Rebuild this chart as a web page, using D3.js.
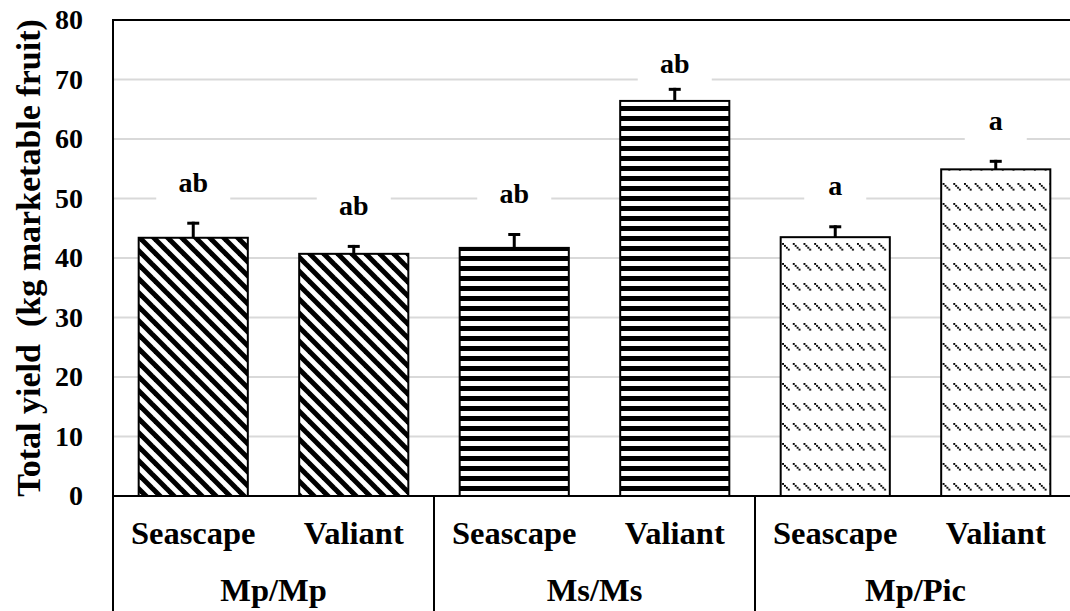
<!DOCTYPE html>
<html>
<head>
<meta charset="utf-8">
<script src="https://cdn.jsdelivr.net/npm/d3@7"></script>
<style>
  html, body { margin: 0; padding: 0; background: #fff; }
  svg text { font-family: "Liberation Serif", "Times New Roman", serif; font-weight: bold; fill: #000; }
</style>
</head>
<body>
<svg id="chart" width="1070" height="611"></svg>
<script>
// Rootstock/scion combinations and cultivars
const groups = ["Mp/Mp", "Ms/Ms", "Mp/Pic"];
const cultivars = ["Seascape", "Valiant"];
// Total yield (kg marketable fruit), in group order, cultivar within group
const yieldMeans = [43.4, 40.7, 41.7, 66.4, 43.5, 54.9];
const yieldErrors = [2.7, 1.5, 2.5, 2.2, 2.0, 1.6];
const letters = ["ab", "ab", "ab", "ab", "a", "a"];
const yTicks = [0, 10, 20, 30, 40, 50, 60, 70, 80];

const svg = d3.select("#chart");
const W = 1070, H = 611;
const m = { left: 113, top: 20, right: 1076, bottom: 496 };

const rows = [];
groups.forEach((g, gi) => cultivars.forEach((c, ci) => {
  const i = gi * cultivars.length + ci;
  rows.push({ key: g + "|" + c, group: g, cultivar: c, value: yieldMeans[i], err: yieldErrors[i], letter: letters[i], gi });
}));

const x = d3.scaleBand()
  .domain(rows.map(d => d.key))
  .range([m.left, m.right])
  .paddingInner(0.32)
  .paddingOuter(0.16);

const y = d3.scaleLinear().domain([0, 80]).range([m.bottom, m.top]);

// Fill patterns
const defs = svg.append("defs");
// wide downward diagonal
const pDiag = defs.append("pattern").attr("id", "pDiag")
  .attr("patternUnits", "userSpaceOnUse").attr("width", 14).attr("height", 14);
pDiag.append("rect").attr("width", 14).attr("height", 14).attr("fill", "#fff");
[-14, 0, 14].forEach(dx => {
  pDiag.append("line").attr("x1", dx - 2).attr("y1", -2).attr("x2", dx + 16).attr("y2", 16)
    .attr("stroke", "#000").attr("stroke-width", 5);
});
// wide horizontal
const pHor = defs.append("pattern").attr("id", "pHor")
  .attr("patternUnits", "userSpaceOnUse").attr("width", 10).attr("height", 10)
  .attr("y", m.bottom);
pHor.append("rect").attr("width", 10).attr("height", 10).attr("fill", "#fff");
pHor.append("rect").attr("y", 0).attr("width", 10).attr("height", 5).attr("fill", "#000");
// dashed downward diagonal
const pDash = defs.append("pattern").attr("id", "pDash")
  .attr("patternUnits", "userSpaceOnUse").attr("width", 10.7).attr("height", 20);
pDash.append("rect").attr("width", 10.7).attr("height", 20).attr("fill", "#fff");
[0, 1, 2, 3].forEach(k => {
  pDash.append("rect").attr("x", 1 + k * 1.9).attr("y", 3 + k * 1.9)
    .attr("width", 1.9).attr("height", 1.9).attr("fill", "#000");
});
const fills = ["url(#pDiag)", "url(#pHor)", "url(#pDash)"];

// Gridlines
svg.append("g").selectAll("line")
  .data(yTicks.filter(t => t > 0 && t < 80))
  .join("line")
  .attr("x1", m.left).attr("x2", W)
  .attr("y1", d => y(d)).attr("y2", d => y(d))
  .attr("stroke", "#d9d9d9").attr("stroke-width", 2);

// Bars
svg.append("g").selectAll("rect")
  .data(rows)
  .join("rect")
  .attr("x", d => x(d.key))
  .attr("y", d => y(d.value))
  .attr("width", x.bandwidth())
  .attr("height", d => y(0) - y(d.value))
  .attr("fill", d => fills[d.gi])
  .attr("stroke", "#000").attr("stroke-width", 2);

// Error bars (upper only)
const eb = svg.append("g").selectAll("g").data(rows).join("g");
eb.append("line")
  .attr("x1", d => x(d.key) + x.bandwidth() / 2).attr("x2", d => x(d.key) + x.bandwidth() / 2)
  .attr("y1", d => y(d.value)).attr("y2", d => y(d.value + d.err))
  .attr("stroke", "#000").attr("stroke-width", 3);
eb.append("line")
  .attr("x1", d => x(d.key) + x.bandwidth() / 2 - 6).attr("x2", d => x(d.key) + x.bandwidth() / 2 + 6)
  .attr("y1", d => y(d.value + d.err) + 1.5).attr("y2", d => y(d.value + d.err) + 1.5)
  .attr("stroke", "#000").attr("stroke-width", 3);

// Significance letters with white boxes
const lab = svg.append("g").selectAll("g").data(rows).join("g")
  .attr("transform", d => {
    const cy = Math.max(m.top + 43, y(d.value + d.err) - 40);
    return `translate(${x(d.key) + x.bandwidth() / 2},${cy})`;
  });
lab.append("rect")
  .attr("x", d => -(d.letter.length * 6 + 25))
  .attr("width", d => 2 * (d.letter.length * 6 + 25))
  .attr("y", -20).attr("height", 44)
  .attr("fill", "#fff");
lab.append("text")
  .attr("text-anchor", "middle").attr("dy", "0.35em")
  .style("font-size", "28px")
  .text(d => d.letter);

// Frame: top border, left axis, bottom axis
svg.append("line").attr("x1", m.left).attr("x2", W).attr("y1", m.top).attr("y2", m.top)
  .attr("stroke", "#000").attr("stroke-width", 2);
svg.append("line").attr("x1", m.left).attr("x2", m.left).attr("y1", m.top - 1).attr("y2", H)
  .attr("stroke", "#000").attr("stroke-width", 2);
svg.append("line").attr("x1", m.left).attr("x2", W).attr("y1", m.bottom).attr("y2", m.bottom)
  .attr("stroke", "#000").attr("stroke-width", 2);

// Y axis tick labels
const yAxis = d3.axisLeft(y).tickValues(yTicks).tickSize(0).tickPadding(30);
const ya = svg.append("g").attr("transform", `translate(${m.left},0)`).call(yAxis);
ya.select(".domain").remove();
ya.selectAll("text").style("font-size", "28px")
  .style("font-family", "'Liberation Serif', serif").style("font-weight", "bold");

// Y axis title
svg.append("text")
  .attr("transform", `translate(40,${(m.top + m.bottom) / 2}) rotate(-90)`)
  .attr("text-anchor", "middle")
  .style("font-size", "34px")
  .style("white-space", "pre")
  .text("Total yield  (kg marketable fruit)");

// Cultivar labels
svg.append("g").selectAll("text").data(rows).join("text")
  .attr("x", d => x(d.key) + x.bandwidth() / 2)
  .attr("y", 544)
  .attr("text-anchor", "middle")
  .style("font-size", "32.5px")
  .text(d => d.cultivar);

// Group labels and separators
const step = x.step();
const groupStart = gi => m.left + gi * cultivars.length * step;
svg.append("g").selectAll("text").data(groups).join("text")
  .attr("x", (d, i) => groupStart(i) + cultivars.length * step / 2)
  .attr("y", 601)
  .attr("text-anchor", "middle")
  .style("font-size", "32.5px")
  .text(d => d);
svg.append("g").selectAll("line").data(d3.range(1, groups.length + 1)).join("line")
  .attr("x1", i => groupStart(i)).attr("x2", i => groupStart(i))
  .attr("y1", m.bottom).attr("y2", H)
  .attr("stroke", "#000").attr("stroke-width", 2);
</script>
</body>
</html>
